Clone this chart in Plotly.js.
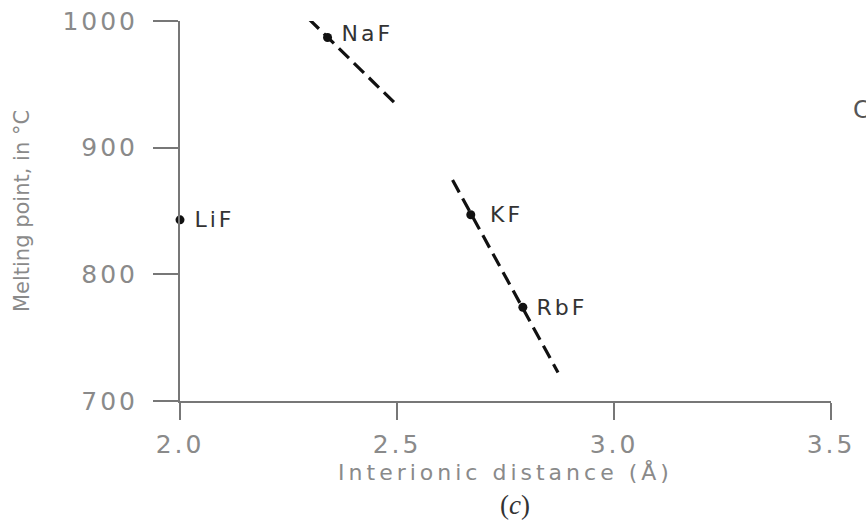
<!DOCTYPE html>
<html>
<head>
<meta charset="utf-8">
<script src="https://cdn.plot.ly/plotly-3.0.1.min.js"></script>
<style>
  html, body { margin: 0; padding: 0; background: #fff; }
  #chart { width: 866px; height: 526px; }
  .main-svg .xtick text, .main-svg .ytick text { letter-spacing: 3px; }
  .main-svg .xtitle { letter-spacing: 4px; }
  .main-svg .annotation text { letter-spacing: 3px; }
  .main-svg .annotation[data-index="4"] text,
  .main-svg .annotation[data-index="5"] text,
  .main-svg .annotation[data-index="6"] text { letter-spacing: 0px; }
</style>
</head>
<body>
<div id="chart"></div>
<script>
// Compounds and their values
const compounds = ["LiF", "NaF", "KF", "RbF"];
const distance = [2.00, 2.34, 2.67, 2.79];      // interionic distance, Å
const meltingPoint = [843, 987, 847, 774];       // melting point, °C

// Dashed trend segments (end points)
const naTrendX = [2.297, 2.50];
const naTrendY = [1001.6, 933.5];
const kTrendX = [2.628, 2.871];
const kTrendY = [874.4, 722.5];

const xTickVals = [2.0, 2.5, 3.0, 3.5];
const xTickText = ["2.0", "2.5", "3.0", "3.5"];
const yTickVals = [700, 800, 900, 1000];
const yTickText = ["700", "800", "900", "1000"];

const dashStyle = {color: "#111", width: 3.2, dash: "14px,7px"};

const traces = [
  {x: naTrendX, y: naTrendY, mode: "lines", line: dashStyle, hoverinfo: "skip", cliponaxis: false},
  {x: kTrendX, y: kTrendY, mode: "lines", line: dashStyle, hoverinfo: "skip", cliponaxis: false},
  {x: distance, y: meltingPoint, mode: "markers", text: compounds,
   marker: {color: "#111", size: 9}, cliponaxis: false}
];

const labelShift = [17, 16, 20, 16];
const labelYShift = [0, 4, 0, 0];
const annotations = compounds.map((c, i) => ({
  x: distance[i], y: meltingPoint[i], xref: "x", yref: "y",
  text: c, showarrow: false, xanchor: "left", yanchor: "middle",
  xshift: labelShift[i], yshift: labelYShift[i],
  font: {family: "DejaVu Sans", size: 22, color: "#333"}
}));
annotations.push({
  x: 0.5146, y: -0.274, xref: "paper", yref: "paper",
  text: "(<i>c</i>)", showarrow: false, xanchor: "center", yanchor: "middle",
  font: {family: "Liberation Serif", size: 27, color: "#333"}
});
annotations.push({
  x: 1.030, y: 0.766, xref: "paper", yref: "paper",
  text: "C", showarrow: false, xanchor: "left", yanchor: "middle",
  font: {family: "DejaVu Sans", size: 24, color: "#555"}
});

const layout = {
  width: 866, height: 526,
  margin: {l: 180, r: 35, t: 21, b: 125},
  paper_bgcolor: "#fff", plot_bgcolor: "#fff",
  showlegend: false,
  xaxis: {
    range: [2.0, 3.5], tickvals: xTickVals, ticktext: xTickText,
    showgrid: false, zeroline: false, showline: true,
    linecolor: "#777", linewidth: 2,
    ticks: "outside", ticklen: 17, tickwidth: 2, tickcolor: "#777",
    ticklabelstandoff: 3,
    tickfont: {family: "DejaVu Sans", size: 25, color: "#8a8a8a"},
    title: {text: "Interionic distance (Å)", standoff: 0,
            font: {family: "DejaVu Sans", size: 22, color: "#8a8a8a"}},
    automargin: false
  },
  yaxis: {
    range: [700, 1000], tickvals: yTickVals, ticktext: yTickText,
    showgrid: false, zeroline: false, showline: true,
    linecolor: "#777", linewidth: 2,
    ticks: "outside", ticklen: 25, tickwidth: 2, tickcolor: "#777",
    ticklabelstandoff: 10,
    tickfont: {family: "DejaVu Sans", size: 25, color: "#8a8a8a"},
    title: {text: "Melting point, in °C", standoff: 39,
            font: {family: "DejaVu Sans", size: 21, color: "#8a8a8a"}},
    automargin: false
  },
  annotations: annotations
};

Plotly.newPlot("chart", traces, layout, {displayModeBar: false, staticPlot: true});
</script>
</body>
</html>
